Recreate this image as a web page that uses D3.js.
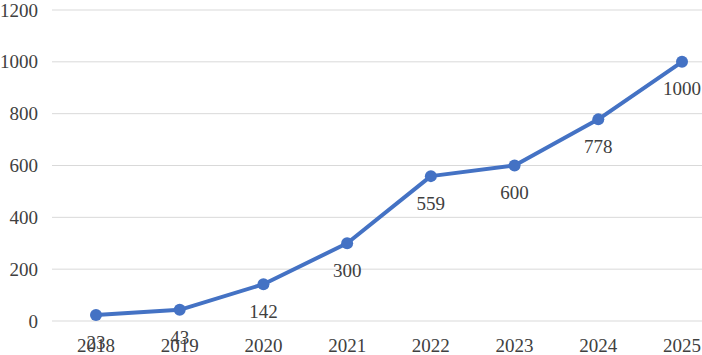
<!DOCTYPE html>
<html>
<head>
<meta charset="utf-8">
<script src="https://cdn.jsdelivr.net/npm/d3@7"></script>
<style>
  body { margin: 0; background: #fff; }
  text { font-family: "Liberation Serif", "Times New Roman", serif; fill: #404040; }
</style>
</head>
<body>
<div id="chart"></div>
<script>
// chart data
const years = ["2018", "2019", "2020", "2021", "2022", "2023", "2024", "2025"];
const values = [23, 43, 142, 300, 559, 600, 778, 1000];
const yTicks = [0, 200, 400, 600, 800, 1000, 1200];

const width = 702;
const height = 355;

const svg = d3.select("#chart")
    .append("svg")
    .attr("width", width)
    .attr("height", height);

// point scale, last category runs past the right edge like the original
const x = d3.scalePoint()
    .domain(years)
    .range([96, 682]);

const y = d3.scaleLinear()
    .domain([0, 1200])
    .range([321, 10]);

// gridlines
svg.append("g")
    .selectAll("line")
    .data(yTicks)
    .enter().append("line")
    .attr("x1", 52)
    .attr("x2", width)
    .attr("y1", d => y(d))
    .attr("y2", d => y(d))
    .attr("stroke", "#d9d9d9")
    .attr("stroke-width", 1);

// y labels
svg.append("g")
    .selectAll("text")
    .data(yTicks)
    .enter().append("text")
    .attr("x", 38)
    .attr("y", d => y(d))
    .attr("dy", "0.35em")
    .attr("text-anchor", "end")
    .style("font-size", "19px")
    .text(d => d);

// x labels
svg.append("g")
    .selectAll("text")
    .data(years)
    .enter().append("text")
    .attr("x", d => x(d))
    .attr("y", 345)
    .attr("dy", "0.35em")
    .attr("text-anchor", "middle")
    .style("font-size", "19px")
    .text(d => d);

const pts = years.map((yr, i) => ({ year: yr, value: values[i] }));

const line = d3.line()
    .x(d => x(d.year))
    .y(d => y(d.value));

svg.append("path")
    .datum(pts)
    .attr("fill", "none")
    .attr("stroke", "#4472c4")
    .attr("stroke-width", 4)
    .attr("stroke-linejoin", "round")
    .attr("d", line);

svg.append("g")
    .selectAll("circle")
    .data(pts)
    .enter().append("circle")
    .attr("cx", d => x(d.year))
    .attr("cy", d => y(d.value))
    .attr("r", 6)
    .attr("fill", "#4472c4");

// data labels below the points
svg.append("g")
    .selectAll("text")
    .data(pts)
    .enter().append("text")
    .attr("x", d => x(d.year))
    .attr("y", d => y(d.value) + 27)
    .attr("dy", "0.35em")
    .attr("text-anchor", "middle")
    .style("font-size", "19px")
    .text(d => d.value);
</script>
</body>
</html>
